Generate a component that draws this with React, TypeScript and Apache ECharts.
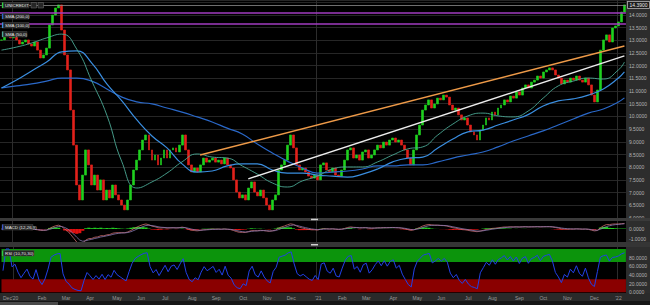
import React, { useEffect, useRef } from "react";
import * as echarts from "echarts";

// ---------- data ----------
const START_DATE = Date.UTC(2019, 11, 17);
const DAYS_PER_CANDLE = 3.644;
const FIRST_OPEN = 13.0;

const CLOSES = [
  13.01, 13.21, 13.28, 13.09, 13.17, 13.01, 12.85, 12.93, 13.01, 12.85,
  12.77, 12.93, 12.61, 12.30, 12.42, 12.69, 13.60, 13.99, 14.27, 14.39,
  13.40, 12.42, 11.83, 10.25, 8.87, 7.30, 6.71, 7.69, 8.68, 8.09,
  7.30, 7.69, 7.10, 7.50, 6.71, 7.10, 6.79, 7.30, 6.91, 6.71,
  6.51, 6.32, 6.71, 7.30, 7.89, 8.28, 8.68, 9.07, 9.27, 8.68,
  8.28, 8.48, 8.09, 8.36, 8.68, 8.36, 8.68, 8.76, 8.60, 8.87,
  9.27, 8.68, 8.09, 7.81, 7.97, 7.81, 8.09, 8.36, 8.20, 8.28,
  8.36, 8.20, 8.28, 8.13, 8.36, 8.09, 7.97, 7.50, 7.02, 6.79,
  6.91, 6.71, 7.18, 7.42, 7.02, 6.87, 7.10, 6.79, 6.51, 6.32,
  6.71, 6.91, 7.89, 8.09, 8.28, 8.87, 9.27, 8.76, 8.09, 7.89,
  7.97, 7.81, 7.65, 7.57, 7.69, 7.50, 8.09, 8.17, 7.89, 7.81,
  7.97, 7.69, 7.65, 7.89, 8.28, 8.68, 8.76, 8.36, 8.48, 8.28,
  8.60, 8.68, 8.36, 8.48, 8.68, 8.87, 8.76, 8.99, 8.87, 9.07,
  9.15, 8.99, 9.07, 8.87, 8.68, 8.36, 8.09, 8.68, 9.27, 9.66,
  10.25, 10.45, 10.65, 10.33, 10.49, 10.72, 10.65, 10.84, 10.76, 10.45,
  10.25, 10.33, 10.06, 9.86, 9.94, 9.66, 9.39, 9.27, 9.07, 9.46,
  9.66, 9.94, 9.86, 10.17, 10.06, 10.33, 10.45, 10.65, 10.57, 10.80,
  10.72, 10.96, 10.84, 11.12, 11.24, 11.12, 11.35, 11.43, 11.59, 11.51,
  11.75, 11.83, 11.91, 11.83, 11.63, 11.51, 11.28, 11.43, 11.35, 11.51,
  11.43, 11.59, 11.43, 11.35, 11.51, 11.24, 10.84, 10.57, 11.04, 12.61,
  13.01, 13.21, 12.93, 13.48, 13.56, 13.72, 14.11, 14.39,
];

// moving averages, one value every SMA_STEP candles
const SMA_STEP = 5;
const SMA200 = [
  11.12, 11.2, 11.28, 11.39, 11.51, 11.51, 11.39, 11.08, 10.76, 10.57,
  10.49, 10.33, 10.17, 9.98, 9.78, 9.54, 9.31, 8.91, 8.56, 8.24,
  7.97, 7.77, 7.81, 7.85, 7.93, 8.05, 8.05, 8.09, 8.09, 8.21,
  8.36, 8.48, 8.6, 8.8, 9.03, 9.23, 9.43, 9.66, 9.9, 10.13,
  10.29, 10.57, 10.73,
];
const SMA100 = [
  11.12, 11.43, 11.79, 12.14, 12.54, 12.58, 12.1, 11.28, 10.61, 9.86,
  9.23, 8.76, 8.13, 7.81, 7.85, 8.05, 8.13, 8.13, 7.89, 7.77,
  7.77, 7.69, 7.65, 7.61, 7.73, 7.93, 8.21, 8.36, 8.4, 8.76,
  9.11, 9.39, 9.46, 9.66, 9.86, 10.07, 10.41, 10.61, 10.69, 10.84,
  11.08, 11.51, 11.75,
];
const SMA50 = [
  12.61, 12.73, 12.89, 13.09, 13.24, 12.65, 11.39, 10.05, 8.21, 7.18,
  7.42, 7.77, 8.21, 8.52, 8.4, 8.36, 8.05, 7.73, 7.38, 7.22,
  7.46, 7.65, 7.93, 8.01, 8.01, 8.21, 8.48, 8.72, 8.8, 9.27,
  9.7, 10.02, 10.13, 10.02, 9.98, 10.21, 10.72, 11.2, 11.39, 11.51,
  11.47, 11.83, 12.14,
];

const LEVELS = [14.07, 13.64];
// trend lines: [candle index, price]
const TREND_ORANGE = [[66, 8.48], [207, 12.77]];
const TREND_WHITE = [[82, 7.54], [207, 12.38]];

const PRICE_MIN = 6;
const PRICE_MAX = 14.583;
const PRICE_STEP = 0.5;
const MACD_MIN = -1.3;
const MACD_MAX = 0.8;
const MACD_TICKS = [-1, 0];
const RSI_MAX = 104.6;
const RSI_STEP = 20;
const RSI_OVER = 70;
const RSI_UNDER = 30;
const MONTHS = ["Jan", "Feb", "Mar", "Apr", "May", "Jun", "Jul", "Aug", "Sep", "Oct", "Nov", "Dec"];

// ---------- helpers ----------
const N = CLOSES.length;
const DATES = CLOSES.map((_, i) => {
  const d = new Date(START_DATE + Math.round(i * DAYS_PER_CANDLE) * 86400000);
  return d.toISOString().slice(0, 10);
});
const monthOf = (s: string) => Number(s.slice(5, 7)) - 1;
const isMonthStart = DATES.map((d, i) => i === 0 || monthOf(d) !== monthOf(DATES[i - 1]));
const isYearStart = DATES.map((d, i) => i > 0 && monthOf(d) === 0 && monthOf(DATES[i - 1]) === 11);

const OPENS = CLOSES.map((c, i) => (i === 0 ? FIRST_OPEN : CLOSES[i - 1]));
const CANDLES = CLOSES.map((c, i) => [OPENS[i], c, Math.min(OPENS[i], c), Math.max(OPENS[i], c)]);

const toPairs = (arr: number[]) => arr.map((v, k) => [Math.min(k * SMA_STEP, N - 1), v]);

const ema = (a: number[], n: number) => {
  const k = 2 / (n + 1);
  const out: number[] = [];
  let e = a[0];
  a.forEach((v, i) => {
    e = i === 0 ? v : v * k + e * (1 - k);
    out.push(e);
  });
  return out;
};
const FAST = ema(CLOSES, 5);
const SLOW = ema(CLOSES, 10);
const MACD = FAST.map((f, i) => f - SLOW[i]);
const SIGNAL = ema(MACD, 4);
const HIST = MACD.map((m, i) => m - SIGNAL[i]);

const rsiOf = (a: number[], n: number) => {
  let ag = 0;
  let al = 0;
  const out: number[] = [50];
  for (let i = 1; i < a.length; i++) {
    const d = a[i] - a[i - 1];
    const g = Math.max(d, 0);
    const l = Math.max(-d, 0);
    const m = Math.min(i, n);
    ag = (ag * (m - 1) + g) / m;
    al = (al * (m - 1) + l) / m;
    out.push(al === 0 ? 100 : 100 - 100 / (1 + ag / al));
  }
  return out;
};
const RSI = rsiOf(CLOSES, 4);
const LAST = CLOSES[N - 1];

const FONT = "Liberation Sans";
const GRID_LINE = "#262626";

function xAxis(gridIndex: number, labels: boolean) {
  return {
    type: "category",
    gridIndex,
    data: DATES,
    boundaryGap: true,
    axisLine: { show: false },
    axisTick: { show: false },
    axisLabel: labels
      ? {
          show: true,
          interval: (i: number) => isMonthStart[i],
          formatter: (v: string, i: number) => {
            const m = monthOf(v);
            if (m === 0 && i !== 0) return "'" + v.slice(2, 4);
            return MONTHS[m];
          },
          color: "#9a9a9a",
          fontSize: 5,
          fontFamily: FONT,
          margin: 3,
          alignMinLabel: "left",
        }
      : { show: false },
    splitLine: {
      show: true,
      interval: (i: number) => isYearStart[i],
      lineStyle: { color: "#2c2c2c", width: 1 },
    },
  };
}

function legendBox(x: number, y: number, w: number, text: string, bar: string) {
  return {
    type: "group",
    z: 20,
    children: [
      { type: "rect", shape: { x, y, width: w, height: 5.5 }, style: { fill: "#262626", stroke: "#4a4a4a", lineWidth: 0.5 }, z: 20 },
      { type: "rect", shape: { x, y, width: 1.3, height: 5.5 }, style: { fill: bar }, z: 21 },
      {
        type: "text",
        z: 22,
        style: { text, x: x + 3, y: y + 2.9, fill: "#e6e6e6", fontSize: 4.4, fontFamily: FONT, verticalAlign: "middle", align: "left" },
      },
    ],
  };
}

function buildOption() {
  const C_UP = "#1fd11f";
  const C_DN = "#e3211b";
  const C200 = "#2a68c8";
  const C100 = "#3a8ee0";
  const C50 = "#4caa96";
  const PURPLE = "#a23cc0";
  return {
    animation: false,
    backgroundColor: "#000",
    grid: [
      { left: 0, top: 0, width: 626, height: 218 },
      { left: 0, top: 221, width: 626, height: 21 },
      { left: 0, top: 247, width: 626, height: 45.3 },
    ],
    xAxis: [xAxis(0, false), xAxis(1, false), xAxis(2, true)],
    yAxis: [
      {
        type: "value",
        gridIndex: 0,
        position: "right",
        min: PRICE_MIN,
        max: PRICE_MAX,
        interval: PRICE_STEP,
        axisLine: { show: false },
        axisTick: { show: false },
        axisLabel: {
          color: "#b4b4b4",
          fontSize: 5,
          fontFamily: FONT,
          margin: 3,
          showMaxLabel: false,
          formatter: (v: number) => (v > 14.2 ? "" : v.toFixed(4)),
        },
        splitLine: { show: true, lineStyle: { color: GRID_LINE, width: 1 } },
      },
      {
        type: "value",
        gridIndex: 1,
        position: "right",
        min: MACD_MIN,
        max: MACD_MAX,
        axisLine: { show: false },
        axisTick: { show: false },
        axisLabel: {
          color: "#b4b4b4",
          fontSize: 5,
          fontFamily: FONT,
          margin: 3,
          customValues: MACD_TICKS,
          formatter: (v: number) => v.toFixed(4),
        },
        splitLine: { show: false },
      },
      {
        type: "value",
        gridIndex: 2,
        position: "right",
        min: 0,
        max: RSI_MAX,
        interval: RSI_STEP,
        axisLine: { show: false },
        axisTick: { show: false },
        axisLabel: {
          color: "#b4b4b4",
          fontSize: 5,
          fontFamily: FONT,
          margin: 3,
          showMaxLabel: false,
          formatter: (v: number) => (v >= 100 ? "" : v.toFixed(4)),
        },
        splitLine: { show: false },
      },
    ],
    graphic: [
      { type: "rect", z: -1, shape: { x: 626, y: 0, width: 24, height: 305 }, style: { fill: "#2d2d2d" } },
      { type: "rect", z: -1, shape: { x: 0, y: 293, width: 650, height: 8 }, style: { fill: "#2a2a2a" } },
      { type: "rect", z: -1, shape: { x: 0, y: 301, width: 650, height: 4 }, style: { fill: "#161616" } },
      { type: "rect", z: -1, shape: { x: 0, y: 302, width: 58, height: 3 }, style: { fill: "#4a4a4a" } },
      { type: "rect", z: 5, shape: { x: 0, y: 218, width: 650, height: 3 }, style: { fill: "#3a3a3a" } },
      { type: "rect", z: 5, shape: { x: 0, y: 242, width: 650, height: 5 }, style: { fill: "#353535" } },
      { type: "rect", z: 6, shape: { x: 311, y: 218.7, width: 7, height: 1.5 }, style: { fill: "#d0d0d0" } },
      { type: "rect", z: 6, shape: { x: 311, y: 244, width: 7, height: 1.5 }, style: { fill: "#d0d0d0" } },
      legendBox(2, 2.5, 27, "UNICREDIT", "#2ecc40"),
      { type: "rect", z: 20, shape: { x: 31, y: 2.5, width: 5.5, height: 5.5 }, style: { fill: "#262626", stroke: "#777", lineWidth: 0.5 } },
      { type: "rect", z: 20, shape: { x: 38, y: 2.5, width: 5.5, height: 5.5 }, style: { fill: "#262626", stroke: "#777", lineWidth: 0.5 } },
      legendBox(2, 13.5, 27, "SMA (200,0)", C200),
      legendBox(2, 22.5, 27, "SMA (100,0)", C100),
      legendBox(2, 31.5, 25, "SMA (50,0)", C50),
      legendBox(2, 224.5, 31, "MACD (12,26,9)", "#3a55c8"),
      legendBox(2, 250.5, 32, "RSI (10,70,30)", "#2ecc40"),
    ],
    series: [
      {
        type: "candlestick",
        xAxisIndex: 0,
        yAxisIndex: 0,
        data: CANDLES,
        barWidth: 2.4,
        itemStyle: { color: C_UP, color0: C_DN, borderColor: C_UP, borderColor0: C_DN, borderWidth: 0.6 },
        markLine: {
          silent: true,
          symbol: ["none", "none"],
          data: [
            { yAxis: LEVELS[0], lineStyle: { color: PURPLE, width: 1.5, type: "solid" }, label: { show: false } },
            { yAxis: LEVELS[1], lineStyle: { color: PURPLE, width: 1.5, type: "solid" }, label: { show: false } },
            {
              yAxis: LAST,
              lineStyle: { color: "#8c8c8c", width: 0.8, type: "solid" },
              label: {
                show: true,
                position: "end",
                distance: 2,
                formatter: LAST.toFixed(4),
                color: "#e8e8e8",
                fontSize: 5,
                fontFamily: FONT,
                backgroundColor: "#1c1c1c",
                borderColor: "#d8d8d8",
                borderWidth: 0.6,
                padding: [1, 1.5, 0.5, 1.5],
              },
            },
          ],
        },
      },
      { type: "line", xAxisIndex: 0, yAxisIndex: 0, data: toPairs(SMA200), smooth: true, showSymbol: false, lineStyle: { color: C200, width: 1.2 } },
      { type: "line", xAxisIndex: 0, yAxisIndex: 0, data: toPairs(SMA100), smooth: true, showSymbol: false, lineStyle: { color: C100, width: 1.2 } },
      { type: "line", xAxisIndex: 0, yAxisIndex: 0, data: toPairs(SMA50), smooth: true, showSymbol: false, lineStyle: { color: C50, width: 0.9 } },
      { type: "line", xAxisIndex: 0, yAxisIndex: 0, data: TREND_ORANGE, showSymbol: false, lineStyle: { color: "#ee9a48", width: 1.4 } },
      { type: "line", xAxisIndex: 0, yAxisIndex: 0, data: TREND_WHITE, showSymbol: false, lineStyle: { color: "#ececec", width: 1.4 } },
      {
        type: "bar",
        xAxisIndex: 1,
        yAxisIndex: 1,
        data: HIST.map((v) => ({ value: v, itemStyle: { color: v >= 0 ? "#22cc22" : "#e01010" } })),
        barWidth: 3.2,
      },
      { type: "line", xAxisIndex: 1, yAxisIndex: 1, data: MACD, showSymbol: false, lineStyle: { color: "#c86a6a", width: 0.8 } },
      { type: "line", xAxisIndex: 1, yAxisIndex: 1, data: SIGNAL, showSymbol: false, lineStyle: { color: "#8878b0", width: 0.8 } },
      {
        type: "line",
        xAxisIndex: 2,
        yAxisIndex: 2,
        data: RSI,
        showSymbol: false,
        lineStyle: { color: "#2240e6", width: 1 },
        markArea: {
          silent: true,
          data: [
            [{ yAxis: RSI_OVER, itemStyle: { color: "#0c940c" } }, { yAxis: 100 }],
            [{ yAxis: 0, itemStyle: { color: "#8a0000" } }, { yAxis: RSI_UNDER }],
          ],
        },
      },
    ],
  };
}

export default function App() {
  const ref = useRef<HTMLDivElement>(null);
  useEffect(() => {
    document.body.style.margin = "0";
    const chart = echarts.init(ref.current as HTMLDivElement, null, { renderer: "svg" });
    chart.setOption(buildOption() as any);
    return () => chart.dispose();
  }, []);
  return <div ref={ref} style={{ width: 650, height: 305, background: "#000" }} />;
}
